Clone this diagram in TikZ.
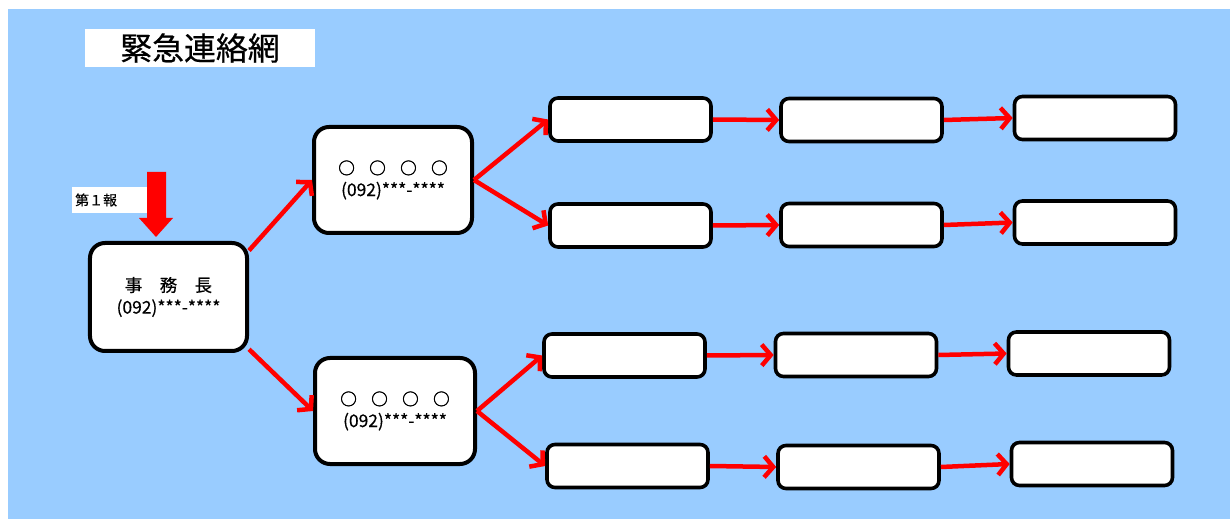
\documentclass[tikz,border=0pt]{standalone}
\usepackage{fontspec}
\setmainfont[FakeBold=0.5]{Noto Sans CJK JP}
\newfontfamily\ringfont[FakeBold=2.2]{Noto Sans CJK JP}
\usetikzlibrary{arrows.meta}
\definecolor{skyblue}{RGB}{153,204,255}
\newcommand{\ring}{{\ringfont\fontsize{16.5}{22}\selectfont ○}}
\begin{document}
\begin{tikzpicture}[x=1bp,y=-1bp,
  box/.style={draw, line width=4bp, fill=white, rounded corners=15bp,
    inner sep=0pt, align=center, font=\fontsize{17.5}{22}\selectfont},
  cell/.style={draw, line width=3.6bp, fill=white, rounded corners=8bp,
    inner sep=0pt, minimum width=161bp, minimum height=43bp},
  link/.style={draw=red, line width=4.5bp,
    -{Straight Barb[length=9bp,width=21bp]}},
  label/.style={fill=white, inner sep=0pt}]
  \useasboundingbox (0,0) rectangle (1230,519);
  \fill[white] (0,0) rectangle (1230,519);
  \fill[skyblue] (8,9) rectangle (1230,519);

  % title
  \node[label, minimum width=230bp, minimum height=38bp,
        font=\fontsize{32}{36}\selectfont] (title) at (200,48) {緊急連絡網};

  % first report tag and its block arrow
  \node[label, minimum width=78bp, minimum height=26bp, anchor=west,
        font=\fontsize{14}{16}\selectfont, text width=72bp] (tag) at (72,200) {第１報};
  \fill[red] (147,172) -- (166,172) -- (166,218) -- (173,218) -- (156,237)
             -- (139,218) -- (147,218) -- cycle;

  % head of the chain
  \node[box, minimum width=157bp, minimum height=108bp] (chief) at (168.5,297)
    {事　務　長\\(092)***-****};

  % second level
  \node[box, minimum width=158bp, minimum height=106bp] (m1) at (393,180)
    {\ring\hspace{14.5bp}\ring\hspace{14.5bp}\ring\hspace{14.5bp}\ring\\(092)***-****};
  \node[box, minimum width=160bp, minimum height=106bp] (m2) at (395,411)
    {\ring\hspace{14.5bp}\ring\hspace{14.5bp}\ring\hspace{14.5bp}\ring\\(092)***-****};

  % third to fifth levels
  \node[cell] (a1) at (630.5,119.5) {};
  \node[cell] (a2) at (861.5,120) {};
  \node[cell] (a3) at (1095,118) {};
  \node[cell] (b1) at (630.5,225.5) {};
  \node[cell] (b2) at (861.5,225) {};
  \node[cell] (b3) at (1095,222.5) {};
  \node[cell] (c1) at (624.5,355.5) {};
  \node[cell] (c2) at (856,355) {};
  \node[cell] (c3) at (1089,353.5) {};
  \node[cell] (d1) at (627.5,466) {};
  \node[cell] (d2) at (858.5,467) {};
  \node[cell] (d3) at (1092,464) {};

  % connectors
  \draw[link] (chief.30) -- (m1.west);
  \draw[link] (chief.-33) -- (m2.west);
  \draw[link] (m1.east) -- (a1.west);
  \draw[link] (m1.east) -- (b1.west);
  \draw[link] (m2.east) -- (c1.west);
  \draw[link] (m2.east) -- (d1.west);
  \draw[link] (a1.east) -- (a2.west);
  \draw[link] (a2.east) -- (a3.west);
  \draw[link] (b1.east) -- (b2.west);
  \draw[link] (b2.east) -- (b3.west);
  \draw[link] (c1.east) -- (c2.west);
  \draw[link] (c2.east) -- (c3.west);
  \draw[link] (d1.east) -- (d2.west);
  \draw[link] (d2.east) -- (d3.west);
\end{tikzpicture}
\end{document}
